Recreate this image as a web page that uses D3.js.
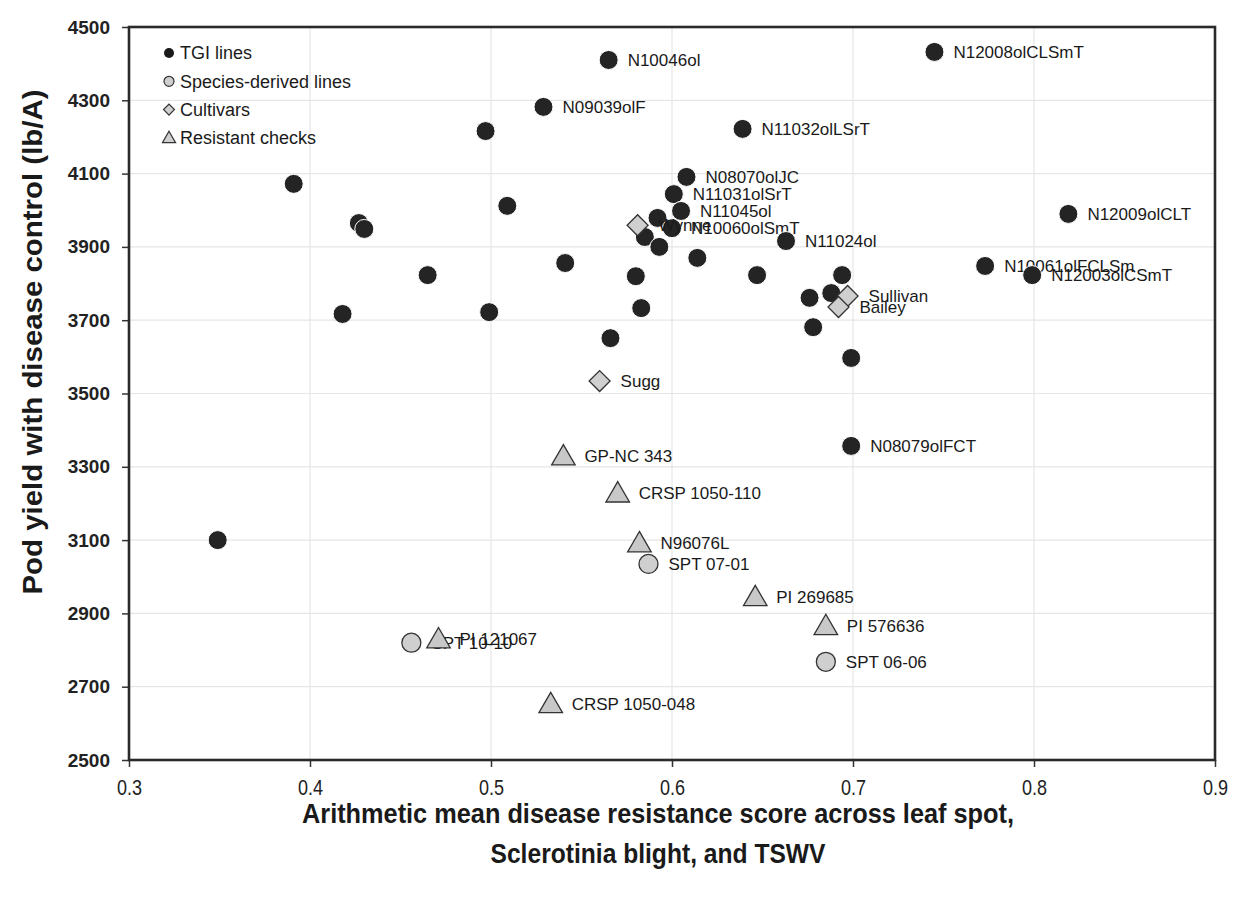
<!DOCTYPE html>
<html>
<head>
<meta charset="utf-8">
<script src="https://cdn.jsdelivr.net/npm/d3@7"></script>
<style>
  body { margin: 0; background: #fff; }
  text { font-family: "Liberation Sans", Arial, sans-serif; }
</style>
</head>
<body>
<svg id="chart" width="1235" height="897"></svg>
<script>
// ---- data ----
const tgiNames = ["", "", "", "", "", "", "", "", "", "N09039olF", "", "N10046ol", "", "", "", "", "", "",
  "N10060olSmT", "N11031olSrT", "N11045ol", "N08070olJC", "", "N11032olLSrT", "", "N11024ol", "", "", "", "", "",
  "N08079olFCT", "N12008olCLSmT", "N10061olFCLSm", "N12003olCSmT", "N12009olCLT"];
const tgiX = [0.349, 0.391, 0.427, 0.430, 0.418, 0.465, 0.497, 0.499, 0.509, 0.529, 0.541, 0.565, 0.566, 0.580,
  0.583, 0.585, 0.592, 0.593, 0.600, 0.601, 0.605, 0.608, 0.614, 0.639, 0.647, 0.663, 0.676, 0.678, 0.688, 0.694,
  0.699, 0.699, 0.745, 0.773, 0.799, 0.819];
const tgiY = [3100, 4072, 3965, 3949, 3717, 3823, 4216, 3722, 4012, 4282, 3856, 4410, 3651, 3820,
  3733, 3927, 3979, 3900, 3951, 4044, 3998, 4091, 3870, 4222, 3823, 3916, 3761, 3681, 3774, 3823,
  3597, 3357, 4432, 3848, 3823, 3990];

const speciesNames = ["SPT 07-01", "SPT 06-06", "SPT 10-10"];
const speciesX = [0.587, 0.685, 0.456];
const speciesY = [3035, 2768, 2820];

const cultivarNames = ["Wynne", "Sugg", "Sullivan", "Bailey"];
const cultivarX = [0.581, 0.560, 0.697, 0.692];
const cultivarY = [3959, 3534, 3766, 3736];

const checkNames = ["GP-NC 343", "CRSP 1050-110", "N96076L", "PI 269685", "PI 576636", "PI 121067", "CRSP 1050-048"];
const checkX = [0.540, 0.570, 0.582, 0.646, 0.685, 0.471, 0.533];
const checkY = [3329, 3228, 3092, 2945, 2866, 2830, 2653];

const xTicks = [0.3, 0.4, 0.5, 0.6, 0.7, 0.8, 0.9];
const yTicks = [2500, 2700, 2900, 3100, 3300, 3500, 3700, 3900, 4100, 4300, 4500];
const legendLabels = ["TGI lines", "Species-derived lines", "Cultivars", "Resistant checks"];

// ---- layout ----
const svg = d3.select("#chart");
const margin = { top: 27, right: 20, bottom: 137, left: 129 };
const W = 1235 - margin.left - margin.right;
const H = 897 - margin.top - margin.bottom;

const g = svg.append("g").attr("transform", `translate(${margin.left},${margin.top})`);

const x = d3.scaleLinear().domain([0.3, 0.9]).range([0, W]);
const y = d3.scaleLinear().domain([2500, 4500]).range([H, 0]);

// gridlines
g.append("g").selectAll("line").data(yTicks.slice(1, -1)).join("line")
  .attr("x1", 0).attr("x2", W)
  .attr("y1", d => y(d)).attr("y2", d => y(d))
  .attr("stroke", "#e6e6e6").attr("stroke-width", 1.2);
g.append("g").selectAll("line").data(xTicks.slice(1, -1)).join("line")
  .attr("y1", 0).attr("y2", H)
  .attr("x1", d => x(d)).attr("x2", d => x(d))
  .attr("stroke", "#e6e6e6").attr("stroke-width", 1.2);

// axes
const yAxis = g.append("g")
  .call(d3.axisLeft(y).tickValues(yTicks).tickSize(7).tickPadding(12).tickFormat(d3.format("d")));
yAxis.selectAll("text")
  .style("font-family", "Liberation Sans, Arial, sans-serif")
  .style("font-size", "19px").style("font-weight", "bold").attr("fill", "#222");

const xAxis = g.append("g").attr("transform", `translate(0,${H})`)
  .call(d3.axisBottom(x).tickValues(xTicks).tickSize(7).tickPadding(12).tickFormat(d3.format(".1f")));
xAxis.selectAll("text")
  .style("font-family", "Liberation Sans, Arial, sans-serif")
  .style("font-size", "22px").attr("fill", "#222")
  .attr("transform", "scale(0.82,1)");

[yAxis, xAxis].forEach(a => {
  a.select(".domain").remove();
  a.selectAll(".tick line").attr("stroke", "#333").attr("stroke-width", 1.5);
});

// frame
g.append("rect").attr("width", W).attr("height", H)
  .attr("fill", "none").attr("stroke", "#2a2a2a").attr("stroke-width", 2.6);

// axis titles
svg.append("text")
  .attr("transform", `translate(42,342) rotate(-90)`)
  .attr("text-anchor", "middle")
  .attr("textLength", 505).attr("lengthAdjust", "spacingAndGlyphs")
  .style("font-size", "28px").style("font-weight", "bold").attr("fill", "#1a1a1a")
  .text("Pod yield with disease control (lb/A)");

svg.append("text")
  .attr("x", 658).attr("y", 823)
  .attr("text-anchor", "middle")
  .attr("textLength", 712).attr("lengthAdjust", "spacingAndGlyphs")
  .style("font-size", "28px").style("font-weight", "bold").attr("fill", "#1a1a1a")
  .text("Arithmetic mean disease resistance score across leaf spot,");
svg.append("text")
  .attr("x", 658).attr("y", 863)
  .attr("text-anchor", "middle")
  .attr("textLength", 335).attr("lengthAdjust", "spacingAndGlyphs")
  .style("font-size", "28px").style("font-weight", "bold").attr("fill", "#1a1a1a")
  .text("Sclerotinia blight, and TSWV");

// ---- marks ----
const tgi = tgiNames.map((n, i) => ({ name: n, x: tgiX[i], y: tgiY[i] }));
const species = speciesNames.map((n, i) => ({ name: n, x: speciesX[i], y: speciesY[i] }));
const cultivars = cultivarNames.map((n, i) => ({ name: n, x: cultivarX[i], y: cultivarY[i] }));
const checks = checkNames.map((n, i) => ({ name: n, x: checkX[i], y: checkY[i] }));

function labels(data, dx) {
  g.append("g").selectAll("text").data(data.filter(d => d.name)).join("text")
    .attr("x", d => x(d.x) + dx).attr("y", d => y(d.y)).attr("dy", "0.35em")
    .style("font-size", "17px").attr("fill", "#1a1a1a")
    .text(d => d.name);
}

const diamond = d3.symbol().type(d3.symbolSquare).size(220);
const triangle = d3.symbol().type(d3.symbolTriangle).size(240);

// TGI lines: labels under markers
labels(tgi, 19);
g.append("g").selectAll("circle").data(tgi).join("circle")
  .attr("cx", d => x(d.x)).attr("cy", d => y(d.y)).attr("r", 9.5)
  .attr("fill", "#242424").attr("stroke", "#fff").attr("stroke-width", 1);

// cultivars
g.append("g").selectAll("path").data(cultivars).join("path")
  .attr("d", diamond)
  .attr("transform", d => `translate(${x(d.x)},${y(d.y)}) rotate(45)`)
  .attr("fill", "#cfcfcf").attr("stroke", "#333").attr("stroke-width", 1.3);
labels(cultivars, 21);

// species-derived
g.append("g").selectAll("circle").data(species).join("circle")
  .attr("cx", d => x(d.x)).attr("cy", d => y(d.y)).attr("r", 9.5)
  .attr("fill", "#cfcfcf").attr("stroke", "#333").attr("stroke-width", 1.3);
labels(species, 20);

// resistant checks
g.append("g").selectAll("path").data(checks).join("path")
  .attr("d", triangle)
  .attr("transform", d => `translate(${x(d.x)},${y(d.y) + 2})`)
  .attr("fill", "#c8c8c8").attr("stroke", "#333").attr("stroke-width", 1.3);
labels(checks, 21);

// ---- legend ----
const leg = svg.append("g").attr("transform", "translate(169,53)");
const legRows = leg.selectAll("g").data(legendLabels).join("g")
  .attr("transform", (d, i) => `translate(0,${i * 28.3})`);
legRows.append("text").attr("x", 11).attr("dy", "0.35em")
  .style("font-size", "18px").attr("fill", "#1a1a1a").text(d => d);
legRows.each(function (d, i) {
  const r = d3.select(this);
  if (i === 0) r.append("circle").attr("r", 5).attr("fill", "#1a1a1a");
  if (i === 1) r.append("circle").attr("r", 5).attr("fill", "#cfcfcf").attr("stroke", "#333").attr("stroke-width", 1.2);
  if (i === 2) r.append("path").attr("d", d3.symbol().type(d3.symbolSquare).size(60)).attr("transform", "rotate(45)")
    .attr("fill", "#cfcfcf").attr("stroke", "#333").attr("stroke-width", 1.2);
  if (i === 3) r.append("path").attr("d", d3.symbol().type(d3.symbolTriangle).size(75)).attr("transform", "translate(0,1)")
    .attr("fill", "#cfcfcf").attr("stroke", "#333").attr("stroke-width", 1.2);
});
</script>
</body>
</html>
